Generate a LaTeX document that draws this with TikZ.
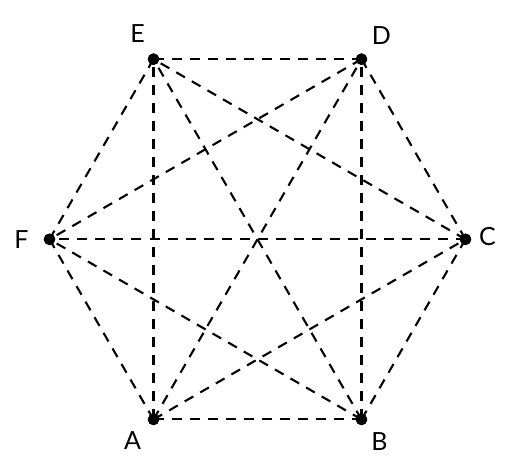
\documentclass[tikz,border=0pt]{standalone}
\usepackage{fontspec}
\setmainfont{Lato}
\usetikzlibrary{positioning}
\def\rad{208pt}
\tikzstyle{vertex}=[draw,circle,fill,inner sep=0pt,minimum size=11pt]
\tikzstyle{vlabel}=[font=\fontsize{25}{30}\selectfont,inner sep=0pt]
\newcommand{\newVertex}[4]{\node[vertex](#1) at (#2:\rad) {};
  \node[vlabel](#1l) at ([shift={#4}]#1) {#3};}
\newcommand{\newEdge}[2]{\draw[link] (#1.center) -- (#2.center);}
\begin{document}
\begin{tikzpicture}[x=1pt,y=1pt,
      link/.style={dash pattern=on 10pt off 8pt,line width=2.1pt}
      ]
      \useasboundingbox (-257.5,-229.7) rectangle (260.5,239.3);
      \newVertex{C}{0}{C}{(22pt,3pt)}
      \newVertex{D}{60}{D}{(20pt,24pt)}
      \newVertex{E}{120}{E}{(-16pt,26pt)}
      \newVertex{F}{180}{F}{(-28pt,0pt)}
      \newVertex{A}{240}{A}{(-21pt,-21pt)}
      \newVertex{B}{300}{B}{(18pt,-22pt)}
      \foreach \a/\b in {A/B,A/C,A/D,A/E,A/F,B/C,B/D,B/E,B/F,C/D,C/E,C/F,D/E,D/F,E/F}
        {\newEdge{\a}{\b}}
      \foreach \v in {A,B,C,D,E,F}
        {\node[vertex] at (\v) {};}
    \end{tikzpicture}
\end{document}
